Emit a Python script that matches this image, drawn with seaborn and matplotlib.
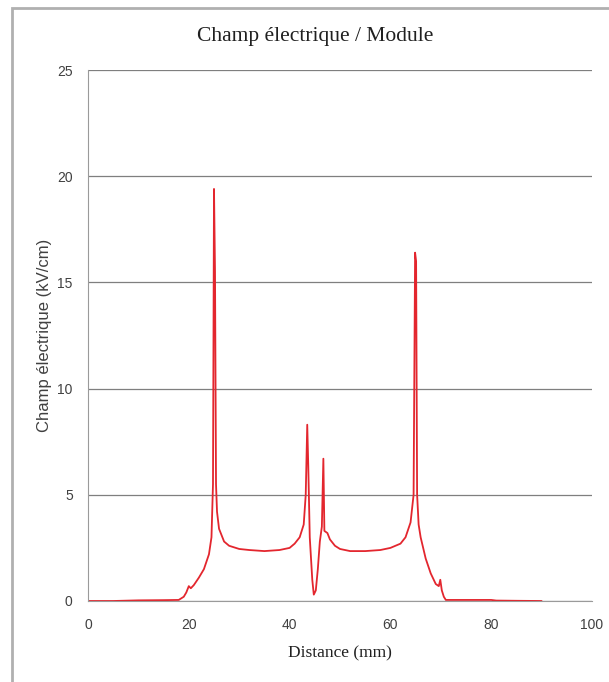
import numpy as np
import pandas as pd
import matplotlib.pyplot as plt
import seaborn as sns
from matplotlib.patches import Rectangle

# Distance (mm) and field module (kV/cm)
distance = [0, 5, 10, 15, 18, 19, 19.5, 20, 20.4, 21, 22, 23, 24, 24.5, 24.8,
            25.0, 25.2, 25.4, 25.6, 26, 27, 28, 30, 32, 35, 38, 40, 41, 42,
            42.8, 43.2, 43.5, 43.7, 44, 44.5, 44.8, 45.2, 45.6, 46.0, 46.4,
            46.7, 46.9, 47.5, 48, 49, 50, 52, 55, 58, 60, 62, 63, 64, 64.6,
            64.9, 65.1, 65.3, 65.6, 66, 67, 68, 69, 69.6, 69.9, 70.2, 70.6,
            71, 75, 80, 81, 85, 90]
champ = [0, 0, 0.03, 0.04, 0.05, 0.2, 0.4, 0.7, 0.6, 0.75, 1.1, 1.5, 2.2, 3.0,
         5.5, 19.4, 15.5, 5.5, 4.2, 3.4, 2.8, 2.6, 2.45, 2.4, 2.35, 2.4, 2.5,
         2.7, 3.0, 3.6, 5.0, 8.3, 6.4, 3.0, 1.0, 0.3, 0.5, 1.5, 2.8, 3.5, 6.7,
         3.3, 3.2, 2.9, 2.6, 2.45, 2.35, 2.35, 2.4, 2.5, 2.7, 3.0, 3.7, 5.0,
         16.4, 16.0, 5.0, 3.6, 3.0, 2.0, 1.3, 0.8, 0.7, 1.0, 0.5, 0.2, 0.05,
         0.05, 0.05, 0.02, 0.01, 0.0]

df = pd.DataFrame({'Distance': distance, 'Champ': champ})

sns.set_style('white')
plt.rcParams['font.family'] = ['Liberation Serif', 'DejaVu Serif']

fig = plt.figure(figsize=(6.09, 6.82), dpi=100)
ax = fig.add_axes([88/609, 1 - 601/682, (592 - 88)/609, (601 - 70)/682])

sns.lineplot(data=df, x='Distance', y='Champ', color='#e3262e', linewidth=1.3, ax=ax)

ax.set_xlim(0, 100)
ax.set_ylim(0, 25)
ax.set_xticks([0, 20, 40, 60, 80, 100])
ax.set_yticks([0, 5, 10, 15, 20, 25])
ax.yaxis.grid(True, color='#7f7f7f', linewidth=0.9)
ax.set_axisbelow(True)
for s in ['top', 'right']:
    ax.spines[s].set_visible(False)
ax.spines['left'].set_color('#9a9a9a')
ax.spines['bottom'].set_color('#9a9a9a')
ax.tick_params(axis='both', direction='out', length=5, color='#9a9a9a',
               labelsize=10, labelcolor='#404040', width=1)
ax.tick_params(axis='y', pad=6)
ax.tick_params(axis='x', pad=7)
for lab in ax.get_xticklabels() + ax.get_yticklabels():
    lab.set_family(['Liberation Sans', 'DejaVu Sans'])

ax.set_xlabel('Distance (mm)', fontsize=12.5, color='#202020', labelpad=10)
ax.set_ylabel('Champ électrique (kV/cm)', fontsize=12, color='#404040',
              family=['Liberation Sans', 'DejaVu Sans'], labelpad=4)
fig.text(315/609, 1 - 37/682, 'Champ électrique / Module', fontsize=15.5,
         ha='center', va='center', color='#202020')

# chart frame
fig.add_artist(Rectangle((12/609, -0.1), 1.2, 1 - 8/682 + 0.1,
                         transform=fig.transFigure, fill=False,
                         edgecolor='#b0b0b0', linewidth=2))

fig.savefig('out.png', dpi=100)
